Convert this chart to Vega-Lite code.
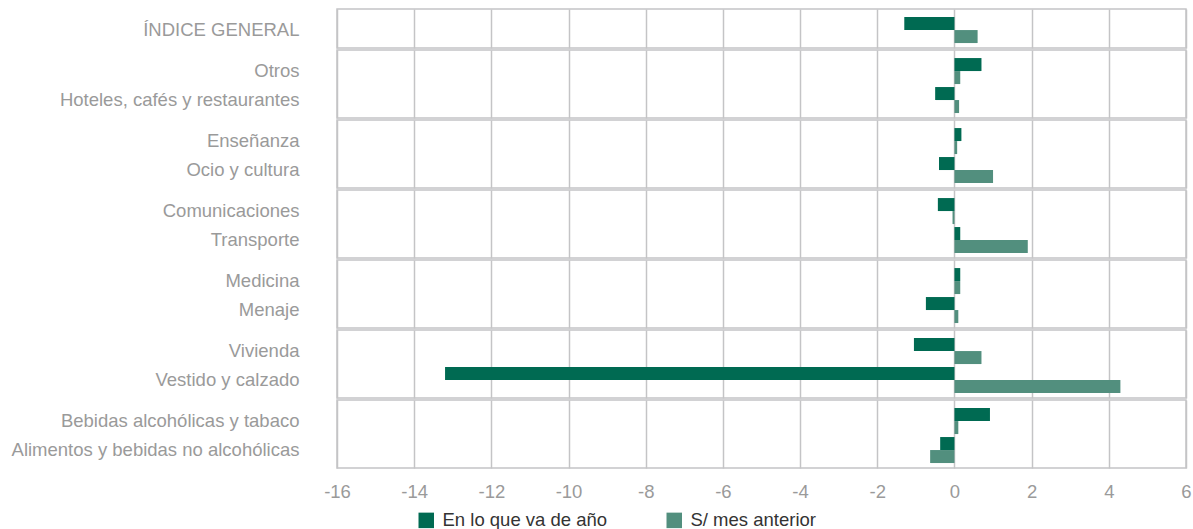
{
  "$schema": "https://vega.github.io/schema/vega-lite/v6.json",
  "padding": {"left": 10, "top": 8, "right": 5, "bottom": 0},
  "background": "white",
  "data": {
    "values": [
      {"grupo": 1, "categoria": "ÍNDICE GENERAL", "serie": "En lo que va de año", "valor": -1.3},
      {"grupo": 1, "categoria": "ÍNDICE GENERAL", "serie": "S/ mes anterior", "valor": 0.6},
      {"grupo": 2, "categoria": "Otros", "serie": "En lo que va de año", "valor": 0.7},
      {"grupo": 2, "categoria": "Otros", "serie": "S/ mes anterior", "valor": 0.15},
      {"grupo": 2, "categoria": "Hoteles, cafés y restaurantes", "serie": "En lo que va de año", "valor": -0.5},
      {"grupo": 2, "categoria": "Hoteles, cafés y restaurantes", "serie": "S/ mes anterior", "valor": 0.12},
      {"grupo": 3, "categoria": "Enseñanza", "serie": "En lo que va de año", "valor": 0.18},
      {"grupo": 3, "categoria": "Enseñanza", "serie": "S/ mes anterior", "valor": 0.07},
      {"grupo": 3, "categoria": "Ocio y cultura", "serie": "En lo que va de año", "valor": -0.4},
      {"grupo": 3, "categoria": "Ocio y cultura", "serie": "S/ mes anterior", "valor": 1.0},
      {"grupo": 4, "categoria": "Comunicaciones", "serie": "En lo que va de año", "valor": -0.43},
      {"grupo": 4, "categoria": "Comunicaciones", "serie": "S/ mes anterior", "valor": -0.05},
      {"grupo": 4, "categoria": "Transporte", "serie": "En lo que va de año", "valor": 0.15},
      {"grupo": 4, "categoria": "Transporte", "serie": "S/ mes anterior", "valor": 1.9},
      {"grupo": 5, "categoria": "Medicina", "serie": "En lo que va de año", "valor": 0.15},
      {"grupo": 5, "categoria": "Medicina", "serie": "S/ mes anterior", "valor": 0.15},
      {"grupo": 5, "categoria": "Menaje", "serie": "En lo que va de año", "valor": -0.74},
      {"grupo": 5, "categoria": "Menaje", "serie": "S/ mes anterior", "valor": 0.1},
      {"grupo": 6, "categoria": "Vivienda", "serie": "En lo que va de año", "valor": -1.05},
      {"grupo": 6, "categoria": "Vivienda", "serie": "S/ mes anterior", "valor": 0.7},
      {"grupo": 6, "categoria": "Vestido y calzado", "serie": "En lo que va de año", "valor": -13.2},
      {"grupo": 6, "categoria": "Vestido y calzado", "serie": "S/ mes anterior", "valor": 4.3},
      {"grupo": 7, "categoria": "Bebidas alcohólicas y tabaco", "serie": "En lo que va de año", "valor": 0.92},
      {"grupo": 7, "categoria": "Bebidas alcohólicas y tabaco", "serie": "S/ mes anterior", "valor": 0.1},
      {"grupo": 7, "categoria": "Alimentos y bebidas no alcohólicas", "serie": "En lo que va de año", "valor": -0.37},
      {"grupo": 7, "categoria": "Alimentos y bebidas no alcohólicas", "serie": "S/ mes anterior", "valor": -0.63}
    ]
  },
  "facet": {
    "row": {
      "field": "grupo",
      "type": "ordinal",
      "header": {"title": null, "labels": false}
    }
  },
  "spacing": {"row": 0},
  "resolve": {"scale": {"y": "independent"}},
  "spec": {
    "width": 849,
    "height": {"step": 13},
    "mark": {"type": "bar"},
    "encoding": {
      "y": {
        "field": "categoria",
        "type": "nominal",
        "sort": null,
        "scale": {"paddingInner": 0.103, "paddingOuter": 0.224, "align": 0.62},
        "axis": {
          "title": null,
          "ticks": false,
          "domain": false,
          "grid": false,
          "labelPadding": 38,
          "labelFont": "Liberation Sans",
          "labelFontSize": 18.5,
          "labelColor": "#9a9a9a",
          "labelLimit": 400
        }
      },
      "yOffset": {
        "field": "serie",
        "type": "nominal",
        "sort": ["En lo que va de año", "S/ mes anterior"]
      },
      "x": {
        "field": "valor",
        "type": "quantitative",
        "scale": {"domain": [-16, 6], "nice": false, "zero": false},
        "axis": {
          "title": null,
          "values": [-16, -14, -12, -10, -8, -6, -4, -2, 0, 2, 4, 6],
          "labelExpr": "'' + datum.value",
          "ticks": false,
          "domain": false,
          "grid": true,
          "gridColor": "#c4c4c6",
          "gridWidth": 1.5,
          "labelPadding": 13,
          "labelFont": "Liberation Sans",
          "labelFontSize": 18.5,
          "labelColor": "#9a9a9a",
          "labelFlush": false
        }
      },
      "color": {
        "field": "serie",
        "type": "nominal",
        "scale": {
          "domain": ["En lo que va de año", "S/ mes anterior"],
          "range": ["#006a52", "#528f7e"]
        },
        "legend": {
          "title": null,
          "orient": "none",
          "direction": "horizontal",
          "legendX": 80,
          "legendY": 502,
          "symbolType": "square",
          "symbolSize": 240,
          "symbolStrokeWidth": 0,
          "symbolOpacity": 1,
          "labelFont": "Liberation Sans",
          "labelFontSize": 18.5,
          "labelColor": "#333333",
          "labelOffset": 7,
          "labelLimit": 400,
          "columnPadding": 57
        }
      }
    }
  },
  "config": {
    "view": {"stroke": "#c4c4c6", "strokeWidth": 1.5},
    "bar": {"opacity": 1}
  }
}
